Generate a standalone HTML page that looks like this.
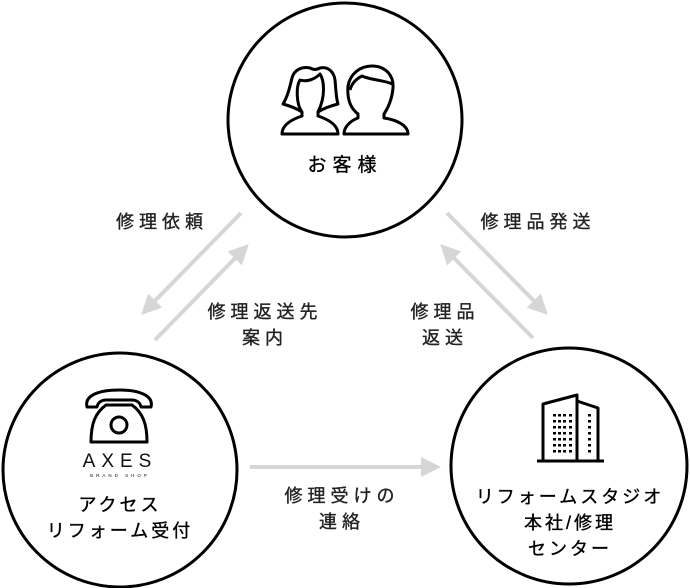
<!DOCTYPE html>
<html><head><meta charset="utf-8"><style>
html,body{margin:0;padding:0;background:#fff;}
body{width:690px;height:588px;position:relative;overflow:hidden;font-family:"Liberation Sans","Noto Sans CJK JP",sans-serif;}
.t{position:absolute;color:#222;font-size:18px;letter-spacing:5px;text-align:center;line-height:26px;white-space:nowrap;font-weight:normal;-webkit-text-stroke:0.35px currentColor;}
.b{color:#000;}
</style></head><body>
<svg width="690" height="588" style="position:absolute;left:0;top:0">
<defs><marker id="a" viewBox="0 0 10 10" refX="8" refY="5" markerWidth="5" markerHeight="5" orient="auto"><path d="M0,0 L10,5 L0,10 z" fill="#d6d6d6"/></marker></defs>
<circle cx="345" cy="120" r="117" fill="none" stroke="#000" stroke-width="3"/>
<circle cx="120" cy="470" r="117" fill="none" stroke="#000" stroke-width="3"/>
<circle cx="569" cy="466" r="118" fill="none" stroke="#000" stroke-width="3"/>
<g stroke="#d6d6d6" stroke-width="4" fill="none" marker-end="url(#a)">
<line x1="241" y1="213" x2="144" y2="312"/>
<line x1="155" y1="340" x2="246" y2="247"/>
<line x1="447" y1="213" x2="545" y2="312"/>
<line x1="533" y1="338" x2="443" y2="247"/>
<line x1="250" y1="467" x2="437" y2="467"/>
</g>
<g stroke="#000" stroke-width="3" fill="none" stroke-linejoin="round">
<path d="M283,104 C288,96 290,86 292,78 C294,70 302,66 310,68 C314,70 316,70 320,68 C328,66 334,72 335,80 C336,90 336,98 338,104 C330,106 324,108 318,112 L318,116 C330,120 338,126 338,134 L282,134 C282,126 290,120 302,116 L302,112 C296,108 290,106 283,104 Z"/>
<path d="M302,112 C296,104 296,86 300,80 C306,82 314,80 320,74 C324,80 326,96 318,112"/>
<path d="M358,114 C350,108 347,98 348,86 C350,74 360,66 372,66 C386,66 394,76 393,88 C392,100 388,108 384,114 L384,118 C398,120 408,126 408,134 L344,134 C344,126 352,120 358,118 Z"/>
<path d="M350,90 C352,82 358,78 362,76 C370,80 384,80 392,84"/>
<path d="M87,407 C84,395 100,390 119,390 C138,390 154,395 151,407 L141,407 C140,402 136,400 132,400 L106,400 C102,400 98,402 97,407 Z"/>
<path d="M106,405 C95,413 91,424 91,442 L147,442 C147,424 143,413 132,405 Z"/>
<circle cx="119" cy="425" r="8"/>
<path d="M543,461 L543,404 L577,395 L577,461"/>
<path d="M577,401 L598,408 L598,461"/>
<line x1="537" y1="461" x2="604" y2="461"/>
</g>
<g fill="#000">
<g id="r"><rect x="553" y="414" width="3" height="2.5"/><rect x="558" y="414" width="3" height="2.5"/><rect x="563" y="414" width="3" height="2.5"/><rect x="569" y="414" width="3" height="2.5"/><rect x="588" y="414" width="3" height="2.5"/></g>
<use href="#r" y="6"/><use href="#r" y="12"/><use href="#r" y="18"/><use href="#r" y="24"/><use href="#r" y="30"/><use href="#r" y="36"/>
</g>
<text x="120" y="467" font-family="Liberation Sans" font-size="19" letter-spacing="6" text-anchor="middle" fill="#111">AXES</text>
<text x="120" y="477" font-family="Liberation Sans" font-size="4.5" letter-spacing="3" text-anchor="middle" fill="#111">BRAND SHOP</text>
</svg>
<div class="t b" style="left:265px;top:153px;width:160px;font-size:19px;letter-spacing:6px;">お客様</div>
<div class="t" style="left:92px;top:209px;width:140px;">修理依頼</div>
<div class="t" style="left:185px;top:299px;width:160px;">修理返送先<br>案内</div>
<div class="t" style="left:458px;top:209px;width:160px;">修理品発送</div>
<div class="t" style="left:395px;top:299px;width:100px;">修理品<br>返送</div>
<div class="t" style="left:262px;top:483px;width:160px;">修理受けの<br>連絡</div>
<div class="t b" style="left:20px;top:492px;width:200px;letter-spacing:3px;">アクセス<br>リフォーム受付</div>
<div class="t b" style="left:460px;top:484px;width:220px;letter-spacing:3px;">リフォームスタジオ<br>本社/修理<br>センター</div>
</body></html>
